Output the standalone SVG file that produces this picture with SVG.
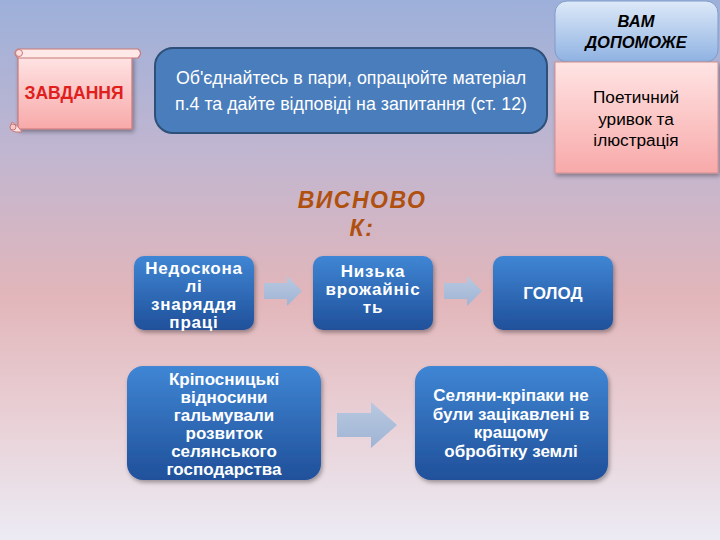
<svg xmlns="http://www.w3.org/2000/svg" width="720" height="540" viewBox="0 0 720 540">
<defs>
<linearGradient id="bg" x1="0" y1="0" x2="0" y2="1">
<stop offset="0" stop-color="#9db0da"/>
<stop offset="0.3" stop-color="#c3b6cf"/>
<stop offset="0.55" stop-color="#e2b6ba"/>
<stop offset="0.8" stop-color="#e9d3d9"/>
<stop offset="1" stop-color="#ecebf4"/>
</linearGradient>
<linearGradient id="blue" x1="0" y1="0" x2="0" y2="1">
<stop offset="0" stop-color="#3f86d4"/>
<stop offset="1" stop-color="#20509a"/>
</linearGradient>
<linearGradient id="pink" x1="0" y1="0" x2="0" y2="1">
<stop offset="0" stop-color="#ffe4e4"/>
<stop offset="1" stop-color="#f8a9a9"/>
</linearGradient>
<linearGradient id="lb" x1="0" y1="0" x2="0" y2="1">
<stop offset="0" stop-color="#dde9f8"/>
<stop offset="1" stop-color="#8fb2e2"/>
</linearGradient>
<linearGradient id="arr" x1="0" y1="0" x2="0" y2="1">
<stop offset="0" stop-color="#b8c8e0"/>
<stop offset="1" stop-color="#9fb4d4"/>
</linearGradient>
<filter id="sh" x="-10%" y="-10%" width="130%" height="130%">
<feDropShadow dx="1.5" dy="2.5" stdDeviation="2" flood-color="#000" flood-opacity="0.35"/>
</filter>
<style>
.box{fill:url(#blue);filter:url(#sh)}
.bt{font-family:"Liberation Sans",Arial,sans-serif;font-weight:bold;font-size:17px;fill:#fff;text-anchor:middle}
.arrow{fill:url(#arr)}
</style>
</defs>
<rect width="720" height="540" fill="url(#bg)"/>

<g id="zavdannya">
<path d="M18 56 L132 56 L132 129 L18 129 Z" fill="url(#pink)" stroke="#c87878" stroke-width="1.2" filter="url(#sh)"/>
<path d="M18 49 L138 49 Q143 53 138 58 L18 58 Q12 53 18 49 Z" fill="#ffe8e8" stroke="#c87878" stroke-width="1.2"/>
<circle cx="19" cy="53" r="3.5" fill="#ffe0e0" stroke="#c87878" stroke-width="1"/>
<path d="M12 122 Q7 131 16 132 L22 132 Q18 125 12 122 Z" fill="#ffe0e0" stroke="#c87878" stroke-width="1"/>
<circle cx="13" cy="127" r="3" fill="#f8c8c8" stroke="#c87878" stroke-width="1"/>
<text x="74" y="99" font-family="Liberation Sans,Arial,sans-serif" font-weight="bold" font-size="17.5" fill="#e0201c" text-anchor="middle">ЗАВДАННЯ</text>
</g>

<g id="task">
<rect x="155" y="48" width="392" height="85" rx="18" fill="#4a7dbb" stroke="#2d4f78" stroke-width="2"/>
<text x="351" y="84" font-family="Liberation Sans,Arial,sans-serif" font-size="17.8" fill="#fff" text-anchor="middle">Об'єднайтесь в пари, опрацюйте матеріал</text>
<text x="351" y="110" font-family="Liberation Sans,Arial,sans-serif" font-size="17.8" fill="#fff" text-anchor="middle">п.4 та дайте відповіді на запитання (ст. 12)</text>
</g>

<g id="help">
<rect x="555" y="1" width="163" height="61" rx="12" fill="url(#lb)" stroke="#7f9cc8" stroke-width="1"/>
<text x="636" y="27" font-family="Liberation Sans,Arial,sans-serif" font-weight="bold" font-style="italic" font-size="16.5" fill="#000" text-anchor="middle">ВАМ</text>
<text x="636" y="48" font-family="Liberation Sans,Arial,sans-serif" font-weight="bold" font-style="italic" font-size="16.5" fill="#000" text-anchor="middle">ДОПОМОЖЕ</text>
</g>

<g id="poem">
<rect x="555" y="62" width="163" height="111" fill="url(#pink)" stroke="#d09090" stroke-width="1" filter="url(#sh)"/>
<text x="636" y="103" font-family="Liberation Sans,Arial,sans-serif" font-size="17.2" fill="#000" text-anchor="middle">Поетичний</text>
<text x="636" y="124.5" font-family="Liberation Sans,Arial,sans-serif" font-size="17.2" fill="#000" text-anchor="middle">уривок та</text>
<text x="636" y="146" font-family="Liberation Sans,Arial,sans-serif" font-size="17.2" fill="#000" text-anchor="middle">ілюстрація</text>
</g>

<g id="conclusion">
<text x="362" y="208" font-family="Liberation Sans,Arial,sans-serif" font-weight="bold" font-style="italic" font-size="23" fill="#b0500f" text-anchor="middle" letter-spacing="1.5">ВИСНОВО</text>
<text x="362" y="236" font-family="Liberation Sans,Arial,sans-serif" font-weight="bold" font-style="italic" font-size="23" fill="#b0500f" text-anchor="middle" letter-spacing="1.5">К:</text>
</g>

<g id="n1">
<rect class="box" x="134" y="256" width="120" height="74" rx="10"/>
<text class="bt" x="194" y="274" letter-spacing="0.8">Недоскона</text>
<text class="bt" x="194" y="292" letter-spacing="0.8">лі</text>
<text class="bt" x="194" y="310" letter-spacing="0.8">знаряддя</text>
<text class="bt" x="194" y="328" letter-spacing="0.8">праці</text>
</g>
<g id="n2">
<rect class="box" x="313" y="256" width="120" height="74" rx="10"/>
<text class="bt" x="373" y="277" letter-spacing="0.8">Низька</text>
<text class="bt" x="373" y="295" letter-spacing="0.8">врожайніс</text>
<text class="bt" x="373" y="313" letter-spacing="0.8">ть</text>
</g>
<g id="n3">
<rect class="box" x="493" y="256" width="120" height="74" rx="10"/>
<text class="bt" x="553" y="299">ГОЛОД</text>
</g>
<g id="n4">
<rect class="box" x="127" y="366" width="194" height="114" rx="16"/>
<text class="bt" x="224" y="385">Кріпосницькі</text>
<text class="bt" x="224" y="403">відносини</text>
<text class="bt" x="224" y="421">гальмували</text>
<text class="bt" x="224" y="439">розвиток</text>
<text class="bt" x="224" y="457">селянського</text>
<text class="bt" x="224" y="475">господарства</text>
</g>
<g id="n5">
<rect class="box" x="415" y="366" width="193" height="114" rx="16"/>
<text class="bt" x="511" y="401">Селяни-кріпаки не</text>
<text class="bt" x="511" y="420">були зацікавлені в</text>
<text class="bt" x="511" y="438">кращому</text>
<text class="bt" x="511" y="457">обробітку землі</text>
</g>

<g id="connectors">
<path class="arrow" d="M264 283 L287 283 L287 276 L302 291 L287 306 L287 299 L264 299 Z"/>
<path class="arrow" d="M444 283 L467 283 L467 276 L482 291 L467 306 L467 299 L444 299 Z"/>
<path class="arrow" d="M337 413 L371 413 L371 402 L397 425 L371 448 L371 437 L337 437 Z"/>
</g>
</svg>
